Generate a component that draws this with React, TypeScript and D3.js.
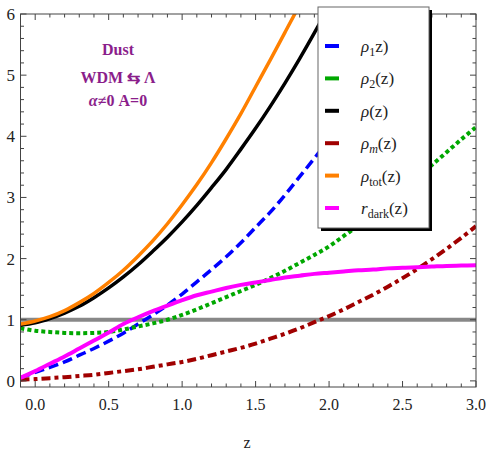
import React from "react";
import * as d3 from "d3";

const zGrid = [-0.1, 0, 0.1, 0.2, 0.3, 0.4, 0.5, 0.6, 0.7, 0.8, 0.9, 1.0, 1.1, 1.2, 1.3, 1.4, 1.5, 1.6, 1.7, 1.8, 1.9, 2.0, 2.1, 2.2, 2.3, 2.4, 2.5, 2.6, 2.7, 2.8, 2.9, 3.0];

const rho1 = [0.05, 0.14, 0.22, 0.31, 0.42, 0.53, 0.65, 0.78, 0.93, 1.08, 1.24, 1.42, 1.62, 1.82, 2.03, 2.26, 2.51, 2.76, 3.04, 3.34, 3.64, 3.95, 4.3, 4.65, 5.0, 5.4, 5.8, 6.2, 6.6, 7.0, 7.4, 7.8];
const rho2 = [0.86, 0.82, 0.8, 0.785, 0.78, 0.785, 0.8, 0.84, 0.89, 0.94, 1.0, 1.08, 1.17, 1.27, 1.37, 1.47, 1.57, 1.68, 1.8, 1.93, 2.06, 2.2, 2.37, 2.54, 2.72, 2.91, 3.11, 3.32, 3.53, 3.74, 3.95, 4.15];
const rho = [0.91, 0.95, 1.02, 1.11, 1.22, 1.36, 1.52, 1.7, 1.9, 2.12, 2.35, 2.6, 2.87, 3.16, 3.46, 3.79, 4.13, 4.49, 4.87, 5.27, 5.69, 6.13, 6.6, 7.1, 7.6, 8.1, 8.6, 9.1, 9.6, 10.1, 10.6, 11.1];
const rhoM = [0.02, 0.03, 0.045, 0.06, 0.08, 0.1, 0.13, 0.16, 0.19, 0.23, 0.27, 0.31, 0.36, 0.42, 0.48, 0.54, 0.61, 0.69, 0.77, 0.86, 0.96, 1.06, 1.17, 1.29, 1.41, 1.54, 1.68, 1.83, 1.99, 2.16, 2.34, 2.53];
const rhoTot = [0.93, 0.98, 1.05, 1.15, 1.28, 1.43, 1.61, 1.81, 2.04, 2.29, 2.57, 2.88, 3.21, 3.57, 3.96, 4.37, 4.81, 5.25, 5.7, 6.15, 6.6, 7.1, 7.6, 8.1, 8.6, 9.1, 9.6, 10.1, 10.6, 11.1, 11.6, 12.1];
const rDark = [0.05, 0.16, 0.28, 0.4, 0.53, 0.66, 0.79, 0.93, 1.04, 1.14, 1.23, 1.32, 1.4, 1.46, 1.52, 1.57, 1.61, 1.65, 1.69, 1.72, 1.75, 1.77, 1.79, 1.81, 1.82, 1.84, 1.85, 1.86, 1.87, 1.88, 1.885, 1.89];

const xTicks = [0, 0.5, 1.0, 1.5, 2.0, 2.5, 3.0];
const yTicks = [0, 1, 2, 3, 4, 5, 6];

const series = [
  { name: "rho1", values: rho1, color: "#0000FF", dash: "10,5", width: 3.5 },
  { name: "rho2", values: rho2, color: "#00A800", dash: "4,3", width: 4 },
  { name: "rho", values: rho, color: "#000000", dash: "", width: 3.5 },
  { name: "rhoM", values: rhoM, color: "#A00000", dash: "9,4,4,4", width: 4 },
  { name: "rhoTot", values: rhoTot, color: "#FF8000", dash: "", width: 3.5 },
  { name: "rDark", values: rDark, color: "#FF00FF", dash: "", width: 4 },
];

const legendItems = [
  { sym: "\u03C1", sub: "1", tail: "z)", subItalic: false, color: "#0000FF" },
  { sym: "\u03C1", sub: "2", tail: "(z)", subItalic: false, color: "#00A800" },
  { sym: "\u03C1", sub: "", tail: "(z)", subItalic: false, color: "#000000" },
  { sym: "\u03C1", sub: "m", tail: "(z)", subItalic: true, color: "#A00000" },
  { sym: "\u03C1", sub: "tot", tail: "(z)", subItalic: false, color: "#FF8000" },
  { sym: "r", sub: "dark", tail: "(z)", subItalic: false, color: "#FF00FF" },
];

const SERIF = "Liberation Serif";

export default function App() {
  const W = 487, H = 452;
  const L = 20.5, R = 476, T = 14, B = 387;
  const x = d3.scaleLinear().domain([-0.1, 3.0]).range([L, R]);
  const y = d3.scaleLinear().domain([-0.1, 6]).range([B, T]);
  const line = d3.line<number>().x((_, i) => x(zGrid[i])).y((d) => y(d)).curve(d3.curveCatmullRom);

  const xMinor = d3.range(-0.1, 3.0001, 0.1).map((v) => +v.toFixed(2));
  const yMinor = d3.range(0, 6.0001, 0.2).map((v) => +v.toFixed(2));
  const isMajorX = (v: number) => Math.abs(v * 2 - Math.round(v * 2)) < 1e-6 && v >= 0;
  const isMajorY = (v: number) => Math.abs(v - Math.round(v)) < 1e-6;

  const legX = 318, legY = 7, legW = 111, legH = 221;
  const legRow0 = 46, legStep = 32.4;
  const purple = "#8B1E8B";

  return (
    <div style={{ fontFamily: `"${SERIF}"` }}>
    <svg width={W} height={H} fontFamily={SERIF} style={{ position: "absolute", left: 0, top: 0, fontFamily: `"${SERIF}"` }}>
      <defs>
        <clipPath id="plotClip">
          <rect x={L} y={T} width={R - L} height={B - T} />
        </clipPath>
      </defs>
      <rect x={0} y={0} width={W} height={H} fill="#fff" />
      <g clipPath="url(#plotClip)">
        <line x1={L} x2={R} y1={y(1)} y2={y(1)} stroke="#888" strokeWidth={4} />
        {series.map((s) => (
          <path key={s.name} d={line(s.values) || ""} fill="none" stroke={s.color} strokeWidth={s.width}
            strokeDasharray={s.dash || undefined} />
        ))}
      </g>
      <rect x={L} y={T} width={R - L} height={B - T} fill="none" stroke="#444" strokeWidth={1} />
      {xMinor.map((v) => {
        const len = isMajorX(v) ? 6 : 3.5;
        const px = x(v);
        return (
          <g key={"xt" + v}>
            <line x1={px} x2={px} y1={B} y2={B - len} stroke="#444" strokeWidth={1} />
            <line x1={px} x2={px} y1={T} y2={T + len} stroke="#444" strokeWidth={1} />
          </g>
        );
      })}
      {yMinor.map((v) => {
        const len = isMajorY(v) ? 6 : 3.5;
        const py = y(v);
        return (
          <g key={"yt" + v}>
            <line x1={L} x2={L + len} y1={py} y2={py} stroke="#444" strokeWidth={1} />
            <line x1={R} x2={R - len} y1={py} y2={py} stroke="#444" strokeWidth={1} />
          </g>
        );
      })}
      {xTicks.map((v) => (
        <text key={"xl" + v} x={x(v)} y={410} textAnchor="middle" fontSize={16} fill="#222" fontFamily={SERIF} style={{ fontFamily: `"${SERIF}"` }}>{v.toFixed(1)}</text>
      ))}
      {yTicks.map((v) => (
        <text key={"yl" + v} x={15} y={y(v) + 6} textAnchor="end" fontSize={17} fill="#222" fontFamily={SERIF} style={{ fontFamily: `"${SERIF}"` }}>{v}</text>
      ))}
      <text x={247} y={448} textAnchor="middle" fontSize={16} fill="#222" fontFamily={SERIF} style={{ fontFamily: `"${SERIF}"` }}>z</text>

      <text x={118} y={55} textAnchor="middle" fontSize={16} fontWeight="bold" fill={purple} fontFamily={SERIF} style={{ fontFamily: `"${SERIF}"` }}>Dust</text>
      <text x={118} y={83} textAnchor="middle" fontSize={16} fontWeight="bold" fill={purple} fontFamily={SERIF} style={{ fontFamily: `"${SERIF}"` }}>{"WDM \u21C6  \u039B"}</text>
      <text x={118} y={106} textAnchor="middle" fontSize={16} fontWeight="bold" fill={purple} fontFamily={SERIF} style={{ fontFamily: `"${SERIF}"` }}>
        <tspan fontStyle="italic">{"\u03B1"}</tspan>
        <tspan>{"\u22600   A=0"}</tspan>
      </text>

      <rect x={legX + 3} y={legY + 3} width={legW} height={legH} fill="#000" />
      <rect x={legX} y={legY} width={legW} height={legH} fill="#fff" stroke="#666" strokeWidth={1} />
      {legendItems.map((it, i) => {
        const cy = legRow0 + i * legStep;
        return (
          <g key={"lg" + i}>
            <line x1={325} x2={339} y1={cy} y2={cy} stroke={it.color} strokeWidth={4} />
            <text x={361} y={cy + 6} fontSize={17} fill="#222" fontFamily={SERIF} style={{ fontFamily: `"${SERIF}"` }}>
              <tspan fontStyle="italic">{it.sym}</tspan>
              {it.sub ? (
                <tspan fontSize={12} dy={4} fontStyle={it.subItalic ? "italic" : "normal"}>{it.sub}</tspan>
              ) : null}
              <tspan dy={it.sub ? -4 : 0}>{it.tail}</tspan>
            </text>
          </g>
        );
      })}
    </svg>
    </div>
  );
}
